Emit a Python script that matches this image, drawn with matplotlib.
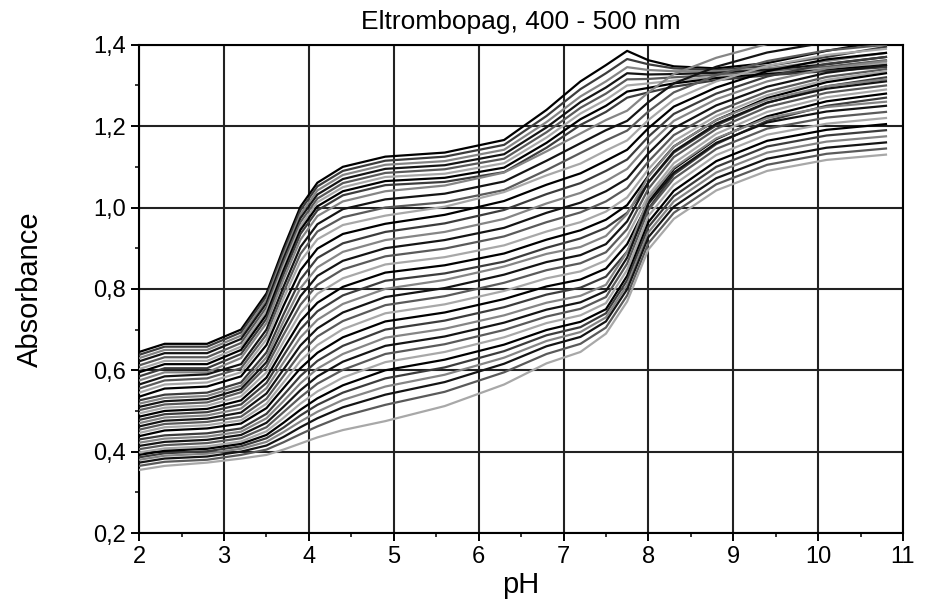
import numpy as np
import matplotlib.pyplot as plt
from matplotlib.ticker import MultipleLocator, FuncFormatter

plt.rcParams['font.family'] = ['Liberation Sans', 'DejaVu Sans']

ph = [2.0, 2.3, 2.8, 3.2, 3.5, 3.7, 3.9, 4.1, 4.4, 4.9, 5.6, 6.3, 6.8, 7.2,
      7.5, 7.75, 8.0, 8.3, 8.8, 9.4, 10.1, 10.8]

# upper curves (high absorbance in acid, big step near pH 3.8)
upper_curves = [
    [.645, .665, .665, .700, .789, .900, 1.002, 1.061, 1.100, 1.125, 1.135, 1.166, 1.240, 1.310, 1.350, 1.385, 1.362, 1.347, 1.342, 1.355, 1.385, 1.410],
    [.638, .658, .658, .693, .782, .891, .993, 1.052, 1.090, 1.115, 1.125, 1.154, 1.225, 1.291, 1.330, 1.365, 1.352, 1.342, 1.338, 1.348, 1.370, 1.395],
    [.630, .650, .650, .685, .773, .882, .983, 1.042, 1.080, 1.105, 1.114, 1.142, 1.210, 1.273, 1.310, 1.345, 1.338, 1.335, 1.335, 1.342, 1.360, 1.380],
    [.622, .642, .642, .677, .765, .874, .974, 1.032, 1.070, 1.095, 1.104, 1.131, 1.197, 1.259, 1.295, 1.330, 1.327, 1.328, 1.331, 1.338, 1.352, 1.370],
    [.612, .632, .632, .667, .755, .864, .964, 1.022, 1.060, 1.085, 1.094, 1.120, 1.185, 1.245, 1.280, 1.315, 1.316, 1.320, 1.326, 1.334, 1.346, 1.362],
    [.603, .623, .623, .658, .746, .854, .954, 1.013, 1.050, 1.075, 1.083, 1.109, 1.172, 1.231, 1.265, 1.300, 1.305, 1.312, 1.322, 1.331, 1.342, 1.355],
    [.595, .615, .615, .650, .737, .845, .945, 1.003, 1.040, 1.065, 1.073, 1.098, 1.159, 1.217, 1.250, 1.285, 1.294, 1.305, 1.318, 1.328, 1.338, 1.350],
    [.585, .605, .605, .640, .727, .835, .935, .993, 1.030, 1.055, 1.063, 1.087, 1.147, 1.203, 1.235, 1.270, 1.283, 1.297, 1.313, 1.325, 1.335, 1.345],
    [.575, .595, .595, .630, .716, .823, .921, .979, 1.015, 1.040, 1.054, 1.086, 1.138, 1.182, 1.215, 1.238, 1.283, 1.328, 1.368, 1.402, 1.427, 1.440],
    [.565, .585, .590, .615, .700, .805, .903, .959, .996, 1.020, 1.034, 1.064, 1.115, 1.158, 1.190, 1.213, 1.259, 1.305, 1.346, 1.381, 1.406, 1.420],
    [.555, .575, .580, .605, .688, .791, .886, .941, .976, 1.000, 1.013, 1.043, 1.092, 1.134, 1.165, 1.189, 1.236, 1.283, 1.325, 1.360, 1.386, 1.400],
    [.545, .565, .570, .595, .676, .776, .868, .922, .957, .980, 1.002, 1.038, 1.079, 1.108, 1.140, 1.165, 1.215, 1.265, 1.310, 1.348, 1.375, 1.390],
]

# middle curves
middle_curves = [
    [.535, .555, .560, .585, .662, .758, .846, .899, .935, .960, .982, 1.016, 1.056, 1.084, 1.115, 1.142, 1.195, 1.248, 1.295, 1.335, 1.364, 1.380],
    [.526, .540, .545, .570, .644, .737, .823, .876, .912, .940, .961, .994, 1.033, 1.060, 1.090, 1.118, 1.174, 1.230, 1.280, 1.322, 1.353, 1.370],
    [.518, .532, .537, .562, .632, .720, .802, .853, .891, .920, .940, .972, 1.010, 1.036, 1.065, 1.095, 1.154, 1.213, 1.266, 1.310, 1.342, 1.360],
    [.510, .524, .529, .554, .620, .704, .782, .832, .869, .900, .920, .950, .987, 1.012, 1.040, 1.071, 1.133, 1.195, 1.251, 1.297, 1.331, 1.350],
    [.502, .516, .521, .546, .609, .687, .761, .810, .848, .880, .899, .929, .964, .988, 1.015, 1.048, 1.113, 1.178, 1.236, 1.285, 1.321, 1.340],
    [.494, .508, .513, .536, .595, .670, .741, .788, .826, .860, .878, .907, .941, .964, .990, 1.025, 1.094, 1.163, 1.225, 1.276, 1.314, 1.335],
    [.486, .500, .505, .526, .582, .653, .721, .766, .805, .840, .858, .887, .921, .944, .970, 1.006, 1.078, 1.150, 1.215, 1.269, 1.308, 1.330],
    [.478, .492, .497, .516, .569, .636, .701, .745, .784, .820, .838, .867, .901, .924, .950, .987, 1.061, 1.135, 1.202, 1.257, 1.298, 1.320],
    [.470, .484, .489, .506, .556, .619, .681, .724, .763, .800, .822, .855, .886, .903, .930, .984, 1.076, 1.150, 1.215, 1.265, 1.298, 1.315],
    [.462, .476, .481, .496, .543, .602, .661, .703, .742, .780, .802, .835, .866, .883, .910, .966, 1.062, 1.138, 1.206, 1.258, 1.292, 1.310],
    [.454, .468, .473, .486, .530, .586, .642, .683, .721, .760, .782, .815, .846, .863, .890, .947, 1.046, 1.124, 1.193, 1.247, 1.282, 1.300],
    [.446, .460, .465, .477, .518, .570, .623, .662, .701, .740, .762, .795, .826, .843, .870, .929, 1.030, 1.109, 1.181, 1.235, 1.271, 1.290],
]

# lower curves (small step near pH 3.8, big step near pH 7.8)
lower_curves = [
    [.438, .452, .457, .469, .507, .556, .605, .643, .681, .720, .742, .775, .806, .823, .850, .910, 1.013, 1.095, 1.168, 1.224, 1.261, 1.280],
    [.430, .440, .445, .457, .493, .539, .586, .623, .660, .700, .722, .755, .786, .803, .830, .892, .997, 1.081, 1.156, 1.213, 1.250, 1.270],
    [.422, .432, .437, .449, .482, .524, .568, .604, .640, .680, .702, .735, .766, .783, .810, .891, 1.022, 1.098, 1.170, 1.220, 1.247, 1.260],
    [.414, .424, .429, .441, .471, .510, .551, .585, .621, .660, .683, .717, .749, .767, .795, .877, 1.009, 1.086, 1.159, 1.209, 1.236, 1.250],
    [.406, .416, .421, .433, .460, .497, .534, .567, .601, .640, .664, .699, .732, .751, .780, .862, .994, 1.071, 1.144, 1.194, 1.221, 1.235],
    [.398, .408, .413, .425, .450, .483, .518, .548, .582, .620, .645, .681, .716, .735, .765, .847, .979, 1.056, 1.129, 1.179, 1.206, 1.220],
    [.392, .402, .407, .419, .441, .471, .503, .531, .563, .600, .626, .663, .699, .719, .750, .832, .964, 1.041, 1.114, 1.164, 1.191, 1.205],
    [.386, .396, .401, .413, .433, .459, .489, .515, .545, .580, .607, .647, .686, .706, .740, .821, .952, 1.028, 1.100, 1.150, 1.177, 1.190],
    [.380, .390, .395, .407, .424, .448, .474, .498, .527, .560, .589, .631, .672, .694, .730, .810, .939, 1.015, 1.086, 1.135, 1.162, 1.175],
    [.373, .383, .388, .400, .415, .436, .460, .482, .509, .540, .571, .616, .659, .682, .720, .799, .927, 1.002, 1.072, 1.120, 1.147, 1.160],
    [.365, .375, .380, .392, .405, .423, .443, .462, .487, .515, .547, .595, .640, .665, .705, .784, .912, .987, 1.057, 1.105, 1.132, 1.145],
    [.355, .365, .373, .383, .392, .405, .420, .435, .453, .475, .512, .565, .617, .645, .690, .769, .897, .972, 1.042, 1.090, 1.117, 1.130],
]

shades = ['#000000', '#3c3c3c', '#858585', '#141414', '#5a5a5a', '#a8a8a8']

fig = plt.figure(figsize=(9.28, 6.05), dpi=100)
ax = fig.add_axes([0.150, 0.119, 0.823, 0.807])

all_curves = upper_curves + middle_curves + lower_curves
for i, curve in enumerate(all_curves):
    ax.plot(ph, curve, color=shades[i % len(shades)], linewidth=1.6,
            solid_joinstyle='round', zorder=3)

ax.set_xlim(2, 11)
ax.set_ylim(0.2, 1.4)
ax.xaxis.set_major_locator(MultipleLocator(1))
ax.xaxis.set_minor_locator(MultipleLocator(0.5))
ax.yaxis.set_major_locator(MultipleLocator(0.2))
ax.yaxis.set_minor_locator(MultipleLocator(0.1))
ax.yaxis.set_major_formatter(FuncFormatter(lambda v, p: f"{v:.1f}".replace('.', ',')))

ax.grid(True, which='major', color='#222222', linewidth=1.5, zorder=1)
ax.set_axisbelow(True)
for s in ax.spines.values():
    s.set_linewidth(1.5)
ax.tick_params(which='major', direction='out', length=6, width=1.4, labelsize=17)
ax.tick_params(which='minor', direction='out', length=3, width=1.1)

ax.set_xlabel('pH', fontsize=21, labelpad=2)
ax.set_ylabel('Absorbance', fontsize=21)
ax.yaxis.set_label_coords(-0.125, 0.5)
ax.set_title('Eltrombopag, 400 - 500 nm', fontsize=19, pad=11)

fig.savefig('out.png', dpi=100)
